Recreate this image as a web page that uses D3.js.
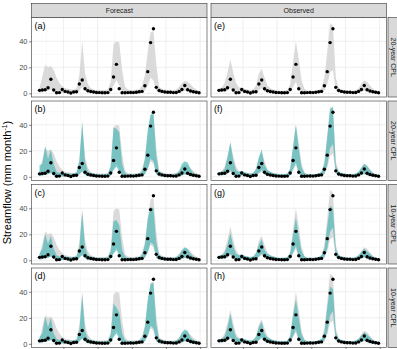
<!DOCTYPE html>
<html>
<head>
<meta charset="utf-8">
<script src="https://cdn.jsdelivr.net/npm/d3@7.9.0/dist/d3.min.js"></script>
<style>
  body { margin: 0; background: #fff; }
  text { font-family: "Liberation Sans", Arial, sans-serif; }
</style>
</head>
<body>
<svg id="chart" width="397" height="349"></svg>
<script>
// monthly observed streamflow (same in every panel)
const observed = [2.3, 2.6, 2.8, 4.3, 10.8, 2.6, 0.5, 0.6, 3.0, 1.5, 1.0, 0.3, 1.0,
  1.2, 7.2, 10.3, 3.5, 2.0, 1.4, 1.0, 0.7, 0.6, 0.5, 0.5, 0.6,
  3.0, 12.6, 22.3, 3.5, 0.5, 0.5, 0.6, 0.7, 0.6, 0.8, 1.2, 1.5,
  5.9, 16.7, 39, 49.7, 4.6, 2.2, 1.5, 1.0, 0.8, 0.8, 0.6, 0.7,
  1.5, 3.0, 6.0, 2.8, 1.8, 1.2, 0.8, 0.5];

// grey band, forecast column
const fcGreyLo = [0.5, 1, 2, 2, 3, 1.5, 0.5, 0.3, 0.5, 0.3, 0.2, 0, 0.2,
  0.3, 2, 5, 2, 0.5, 0.3, 0.2, 0, 0, 0, 0, 0.2,
  1, 6, 10, 6, 1, 0.2, 0, 0, 0, 0, 0.2, 0.5,
  2, 6, 12, 10, 2, 0.5, 0.3, 0.2, 0, 0, 0, 0.2,
  0.5, 1, 2, 1.5, 0.5, 0.3, 0.2, 0];
const fcGreyHi = [4, 13, 22, 20, 21, 18, 12, 8, 5.5, 4, 3.5, 3, 3,
  4, 14, 40, 15, 7, 4, 3, 2.5, 2.5, 2.5, 2.5, 3,
  9, 38, 40, 39, 18, 5, 3, 2.5, 2.5, 3, 3, 6,
  14, 32, 47, 48, 22, 5, 3.5, 3, 2.5, 2.5, 2.5, 3,
  5, 8, 9.5, 9, 7, 4.5, 3, 2];

// grey band, observed column
const obGreyLo = [1, 1.2, 1.5, 2, 4, 1.5, 0.5, 0.3, 1, 0.5, 0.3, 0, 0.3,
  0.5, 2.5, 4, 1.5, 0.8, 0.5, 0.3, 0.2, 0.2, 0.1, 0.1, 0.2,
  1, 5, 9, 2, 0.3, 0.1, 0.1, 0.1, 0.1, 0.2, 0.3, 0.5,
  2, 7, 16, 18, 2, 0.8, 0.5, 0.3, 0.2, 0.2, 0.2, 0.3,
  0.6, 1.2, 2, 1, 0.6, 0.4, 0.2, 0.1];
const obGreyHi = [3.5, 4.5, 8, 16, 26, 16, 8, 4.5, 4.5, 3.5, 3, 2.5, 3,
  6, 15, 19, 12, 6, 4, 3, 2.5, 2, 2, 2, 2.5,
  7, 24, 40, 26, 10, 3.5, 2, 2, 2, 2, 2.5, 4,
  12, 32, 54, 52, 12, 4.5, 3, 2.5, 2, 2, 2, 2.5,
  4, 7.5, 10, 9, 6, 3.5, 2, 1.5];

// teal bands
const fcTealLo = [0.5, 1, 2, 2, 3, 1, 0.3, 0.2, 0.3, 0.2, 0.1, 0, 0.1,
  0.3, 2, 4, 1.5, 0.4, 0.2, 0.1, 0, 0, 0, 0, 0.1,
  1, 5, 8, 4, 0.5, 0.1, 0, 0, 0, 0, 0.1, 0.4,
  2, 6, 14, 12, 2, 0.4, 0.2, 0.1, 0, 0, 0, 0.1,
  0.4, 1, 2, 1.5, 0.5, 0.2, 0.1, 0];
const tealHiB = [9, 10, 24, 14, 21, 10, 4, 3, 3, 3, 2.5, 2.5, 2.5,
  3, 12, 43, 12, 4, 3, 2.5, 2, 2, 2, 2, 2.5,
  8, 38, 37, 34, 10, 3, 2, 2, 2, 2, 2.5, 4,
  14, 36, 48, 50, 16, 4, 3, 2, 2, 2, 2, 2.5,
  4, 10, 12, 11, 6, 3, 2, 1.5];
const tealHiC = [5, 9, 20, 13, 19, 9, 4, 3, 3, 3, 2.5, 2.5, 2.5,
  3, 10, 37, 10, 4, 3, 2.5, 2, 2, 2, 2, 2.5,
  7, 30, 31, 27, 8, 3, 2, 2, 2, 2, 2.5, 4,
  12, 32, 41, 40, 14, 4, 3, 2, 2, 2, 2, 2.5,
  4, 8, 10, 9, 5, 3, 2, 1.5];
const tealHiD = [5, 8, 21, 13, 20, 8, 4, 3, 3, 3, 2.5, 2.5, 2.5,
  3, 10, 38, 10, 4, 3, 2.5, 2, 2, 2, 2, 2.5,
  7, 31, 28, 24, 8, 3, 2, 2, 2, 2, 2.5, 4,
  13, 34, 46, 47, 15, 4, 3, 2, 2, 2, 2, 2.5,
  4, 9, 11, 10, 5, 3, 2, 1.5];
const obTealLo = [1, 1.2, 1.5, 2.5, 5, 2, 0.6, 0.3, 1.2, 0.6, 0.3, 0, 0.3,
  0.6, 3, 5, 2, 1, 0.6, 0.3, 0.2, 0.2, 0.1, 0.1, 0.2,
  1.2, 6, 11, 3, 0.4, 0.1, 0.1, 0.1, 0.1, 0.2, 0.3, 0.6,
  2.5, 9, 22, 25, 3, 1, 0.6, 0.4, 0.2, 0.2, 0.2, 0.3,
  0.8, 1.5, 2.5, 1.2, 0.7, 0.5, 0.3, 0.2];
const tealHiF = [3.5, 4, 6, 15, 27, 13, 5, 4, 4.5, 3.5, 3, 2.5, 3,
  6, 15, 21, 9, 5, 4, 3, 2.5, 2, 2, 2, 2.5,
  6, 23, 40, 22, 7, 3, 2, 2, 2, 2, 2.5, 4,
  10, 30, 52, 54, 9, 4, 3, 2.5, 2, 2, 2, 2.5,
  4, 7, 10, 8, 5, 3, 2, 1.5];
const tealHiG = [3.5, 4, 6, 12, 21, 11, 5, 4, 4.5, 3.5, 3, 2.5, 3,
  5.5, 12, 16, 8, 5, 4, 3, 2.5, 2, 2, 2, 2.5,
  5.5, 20, 33, 19, 7, 3, 2, 2, 2, 2, 2.5, 4,
  9, 26, 42, 40, 9, 4, 3, 2.5, 2, 2, 2, 2.5,
  4, 6.5, 9, 7, 5, 3, 2, 1.5];
const tealHiH = [3.5, 4, 6, 13, 23, 12, 5, 4, 4.5, 3.5, 3, 2.5, 3,
  5.5, 13, 17, 8, 5, 4, 3, 2.5, 2, 2, 2, 2.5,
  5.5, 22, 34, 20, 7, 3, 2, 2, 2, 2, 2.5, 4,
  9, 28, 44, 42, 9, 4, 3, 2.5, 2, 2, 2, 2.5,
  4, 6.5, 9, 7, 5, 3, 2, 1.5];

const colLabels = ['Forecast', 'Observed'];
const rowLabels = ['20-year CPL', '20-year CPL', '10-year CPL', '10-year CPL'];
const panelTags = [['(a)', '(b)', '(c)', '(d)'], ['(e)', '(f)', '(g)', '(h)']];
const yTicks = [0, 20, 40];
const yMinor = [10, 30, 50];
const xTicks = [8.4, 20.4, 32.4, 44.4, 56.4];
const xMinor = [2.4, 14.4, 26.4, 38.4, 50.4];

const panels = [
  { col: 0, row: 0, grey: [fcGreyLo, fcGreyHi], teal: null },
  { col: 0, row: 1, grey: [fcGreyLo, fcGreyHi], teal: [fcTealLo, tealHiB] },
  { col: 0, row: 2, grey: [fcGreyLo, fcGreyHi], teal: [fcTealLo, tealHiC] },
  { col: 0, row: 3, grey: [fcGreyLo, fcGreyHi], teal: [fcTealLo, tealHiD] },
  { col: 1, row: 0, grey: [obGreyLo, obGreyHi], teal: null },
  { col: 1, row: 1, grey: [obGreyLo, obGreyHi], teal: [obTealLo, tealHiF] },
  { col: 1, row: 2, grey: [obGreyLo, obGreyHi], teal: [obTealLo, tealHiG] },
  { col: 1, row: 3, grey: [obGreyLo, obGreyHi], teal: [obTealLo, tealHiH] },
];

const colX = [31.5, 211];
const pw = 175.5;
const rowY = [17.5, 101, 184.5, 268];
const ph = 79.5;
const stripTop = 3.5;

const svg = d3.select('#chart');
const x = d3.scaleLinear().domain([-2.8, 58.8]).range([0, pw]);
const y = d3.scaleLinear().domain([-2.8, 58.3]).range([ph, 0]);

function band(lo, hi) {
  return d3.area()
    .x((d, i) => x(i))
    .y0((d, i) => y(lo[i]))
    .y1((d, i) => y(hi[i]))(lo);
}

panels.forEach((p) => {
  const g = svg.append('g').attr('transform', `translate(${colX[p.col]},${rowY[p.row]})`);
  g.append('rect').attr('width', pw).attr('height', ph).attr('fill', '#fff');

  // grid
  yMinor.forEach((v) => g.append('line').attr('x1', 0).attr('x2', pw).attr('y1', y(v)).attr('y2', y(v))
    .attr('stroke', '#f0f0f0').attr('stroke-width', 0.4));
  xMinor.forEach((v) => g.append('line').attr('y1', 0).attr('y2', ph).attr('x1', x(v)).attr('x2', x(v))
    .attr('stroke', '#f0f0f0').attr('stroke-width', 0.4));
  yTicks.forEach((v) => g.append('line').attr('x1', 0).attr('x2', pw).attr('y1', y(v)).attr('y2', y(v))
    .attr('stroke', '#e8e8e8').attr('stroke-width', 0.7));
  xTicks.forEach((v) => g.append('line').attr('y1', 0).attr('y2', ph).attr('x1', x(v)).attr('x2', x(v))
    .attr('stroke', '#e8e8e8').attr('stroke-width', 0.7));

  g.append('path').attr('d', band(p.grey[0], p.grey[1])).attr('fill', '#dadada');
  if (p.teal) {
    g.append('path').attr('d', band(p.teal[0], p.teal[1])).attr('fill', '#38b3b3').attr('fill-opacity', 0.6);
  }

  g.selectAll('circle').data(observed).join('circle')
    .attr('cx', (d, i) => x(i)).attr('cy', (d) => y(d)).attr('r', 1.7).attr('fill', '#000');

  g.append('text').attr('x', 3).attr('y', 11).attr('font-size', 9).attr('fill', '#000')
    .text(panelTags[p.col][p.row]);

  g.append('rect').attr('width', pw).attr('height', ph).attr('fill', 'none')
    .attr('stroke', '#333').attr('stroke-width', 0.6);

  if (p.col === 0) {
    const ax = g.append('g').call(d3.axisLeft(y).tickValues(yTicks).tickSize(2.5).tickPadding(1.5));
    ax.select('.domain').remove();
    ax.selectAll('line').attr('stroke', '#333').attr('stroke-width', 0.6);
    ax.selectAll('text').attr('fill', '#4d4d4d').attr('font-size', 7.5).attr('font-family', 'Liberation Sans, Arial, sans-serif');
  }
  if (p.row === 3) {
    const ax = g.append('g').attr('transform', `translate(0,${ph})`)
      .call(d3.axisBottom(x).tickValues(xTicks).tickSize(2.5).tickFormat(''));
    ax.select('.domain').remove();
    ax.selectAll('line').attr('stroke', '#333').attr('stroke-width', 0.6);
  }
});

// top strips
colLabels.forEach((lab, c) => {
  svg.append('rect').attr('x', colX[c]).attr('y', stripTop).attr('width', pw).attr('height', rowY[0] - stripTop)
    .attr('fill', '#d9d9d9').attr('stroke', '#333').attr('stroke-width', 0.6);
  svg.append('text').attr('x', colX[c] + pw / 2).attr('y', (stripTop + rowY[0]) / 2 + 2.5)
    .attr('text-anchor', 'middle').attr('font-size', 7).attr('fill', '#1a1a1a').text(lab);
});

// right strips
const sx = colX[1] + pw + 1.5;
rowLabels.forEach((lab, r) => {
  svg.append('rect').attr('x', sx).attr('y', rowY[r]).attr('width', 14).attr('height', ph)
    .attr('fill', '#d9d9d9').attr('stroke', '#333').attr('stroke-width', 0.6);
  const cy = rowY[r] + ph / 2;
  svg.append('text').attr('transform', `translate(${sx + 2.5},${cy}) rotate(90)`)
    .attr('text-anchor', 'middle').attr('font-size', 7).attr('fill', '#1a1a1a').text(lab);
});

// y axis title
const yt = svg.append('text')
  .attr('transform', `translate(11,${(rowY[0] + rowY[3] + ph) / 2}) rotate(-90)`)
  .attr('text-anchor', 'middle').attr('font-size', 11).attr('fill', '#000');
yt.append('tspan').text('Streamflow (mm month');
yt.append('tspan').attr('dy', -4).attr('font-size', 7).text('-1');
yt.append('tspan').attr('dy', 4).text(')');
</script>
</body>
</html>
